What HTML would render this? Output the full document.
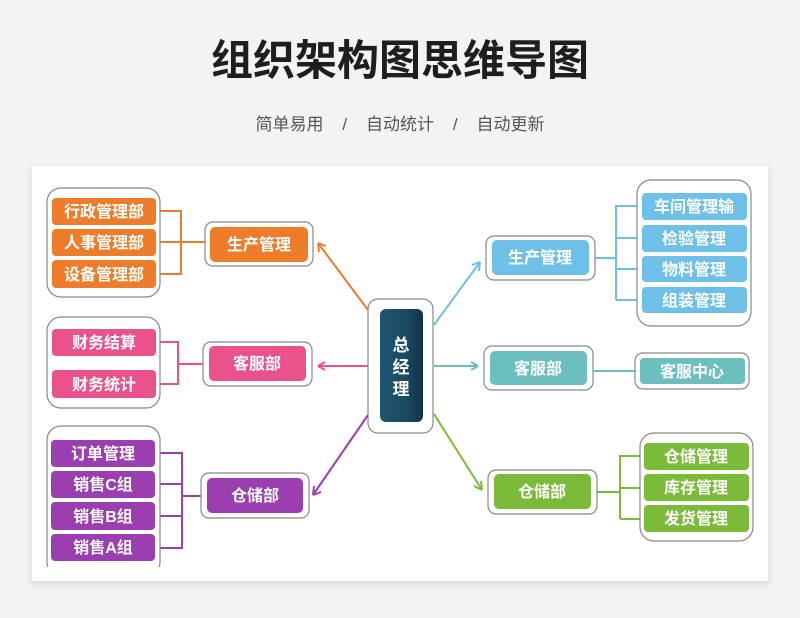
<!DOCTYPE html>
<html><head><meta charset="utf-8"><style>
html,body{margin:0;padding:0;background:#f2f3f5;}
body{width:800px;height:613px;overflow:hidden;font-family:"Liberation Sans","Noto Sans CJK SC",sans-serif;}
</style></head><body>
<svg width="800" height="613" viewBox="0 0 800 613" xmlns="http://www.w3.org/2000/svg" font-family="Liberation Sans, Noto Sans CJK SC, sans-serif">
<defs>
<filter id="sh" x="-5%" y="-5%" width="110%" height="115%"><feDropShadow dx="0" dy="3" stdDeviation="4" flood-color="#000" flood-opacity="0.12"/></filter>
<linearGradient id="cg" x1="0" x2="1"><stop offset="0" stop-color="#1f5670"/><stop offset="0.6" stop-color="#1a4a63"/><stop offset="1" stop-color="#0f3248"/></linearGradient>
<clipPath id="card"><rect x="32" y="166" width="736" height="401"/></clipPath>
</defs>
<text x="400" y="75" text-anchor="middle" font-size="42" font-weight="bold" fill="#1e1e1e">组织架构图思维导图</text>
<text x="400" y="130" text-anchor="middle" font-size="17" fill="#555" xml:space="preserve">简单易用    /    自动统计    /    自动更新</text>
<rect x="32" y="166" width="736" height="415" fill="#fff" filter="url(#sh)"/>
<g clip-path="url(#card)" font-size="16" font-weight="bold" fill="#fff" text-anchor="middle">
<rect x="368" y="299" width="65" height="134" rx="10" fill="#fff" stroke="#888" stroke-width="1.2"/>
<rect x="380" y="309" width="43" height="113" rx="6" fill="url(#cg)"/>
<text x="401" y="351" font-size="17">总</text><text x="401" y="373" font-size="17">经</text><text x="401" y="395" font-size="17">理</text>

<g fill="none" stroke-width="2">
<path d="M368 310 L318 243 M318 243 l1 9 M318 243 l8 3" stroke="#ee7d2b"/>
<path d="M368 366 L318 366 M318 366 l7 -4 M318 366 l7 4" stroke="#e9528a"/>
<path d="M368 415 L313 495 M313 495 l1 -9 M313 495 l8 -3" stroke="#9b3fb0"/>
<path d="M434 325 L480 262 M480 262 l-8 3 M480 262 l-1 9" stroke="#6fc0e8"/>
<path d="M434 366 L478 366 M478 366 l-7 -4 M478 366 l-7 4" stroke="#6bbfbf"/>
<path d="M434 414 L482 490 M482 490 l-1 -9 M482 490 l-8 -4" stroke="#7cba3a"/>
<path d="M156 211 H181 V274 H156 M156 242 H205" stroke="#ee7d2b"/>
<path d="M156 342 H178 V384 H156 M178 364 H203" stroke="#e9528a"/>
<path d="M156 453 H182 V548 H156 M156 484 H182 M156 516 H182 M182 496 H201" stroke="#9b3fb0"/>
<path d="M595 258 H616 V206 H642 M616 238 H642 M616 269 H642 M616 300 H642 M616 206 V300" stroke="#6fc0e8"/>
<path d="M593 371 H635" stroke="#6bbfbf"/>
<path d="M597 492 H620 V456 H644 M620 488 H644 M620 519 H644 M620 456 V519" stroke="#7cba3a"/>
</g>

<g fill="#fff" stroke="#888" stroke-width="1.2">
<rect x="47" y="188" width="113" height="109" rx="14"/>
<rect x="47" y="317" width="113" height="91" rx="14"/>
<rect x="47" y="426" width="113" height="150" rx="14"/>
<rect x="637" y="180" width="114" height="146" rx="14"/>
<rect x="640" y="433" width="113" height="108" rx="14"/>
<rect x="205" y="222" width="108" height="44" rx="8"/>
<rect x="203" y="342" width="109" height="44" rx="8"/>
<rect x="201" y="473" width="108" height="45" rx="8"/>
<rect x="486" y="236" width="109" height="44" rx="8"/>
<rect x="484" y="346" width="109" height="44" rx="8"/>
<rect x="488" y="470" width="109" height="44" rx="8"/>
<rect x="635" y="353" width="114" height="36" rx="8"/>
</g>

<g fill="#ee7d2b">
<rect x="52" y="198" width="104" height="27" rx="4"/><rect x="52" y="229" width="104" height="27" rx="4"/><rect x="52" y="260" width="104" height="28" rx="4"/>
<rect x="210" y="227" width="98" height="35" rx="5"/>
</g>
<text x="104" y="217">行政管理部</text><text x="104" y="248">人事管理部</text><text x="104" y="280">设备管理部</text>
<text x="259" y="250">生产管理</text>
<g fill="#e9528a">
<rect x="52" y="329" width="104" height="27" rx="4"/><rect x="52" y="370" width="104" height="28" rx="4"/>
<rect x="209" y="346" width="97" height="35" rx="5"/>
</g>
<text x="104" y="348">财务结算</text><text x="104" y="390">财务统计</text>
<text x="257" y="369">客服部</text>
<g fill="#9b3fb0">
<rect x="51" y="440" width="104" height="27" rx="4"/><rect x="51" y="471" width="104" height="27" rx="4"/><rect x="51" y="502" width="104" height="28" rx="4"/><rect x="51" y="534" width="104" height="27" rx="4"/>
<rect x="207" y="478" width="96" height="35" rx="5"/>
</g>
<text x="103" y="459">订单管理</text><text x="103" y="490">销售C组</text><text x="103" y="522">销售B组</text><text x="103" y="553">销售A组</text>
<text x="255" y="501">仓储部</text>
<g fill="#6fc0e8">
<rect x="642" y="193" width="105" height="27" rx="4"/><rect x="642" y="225" width="105" height="27" rx="4"/><rect x="642" y="256" width="105" height="26" rx="4"/><rect x="642" y="287" width="105" height="26" rx="4"/>
<rect x="492" y="240" width="97" height="35" rx="5"/>
</g>
<text x="694" y="212">车间管理输</text><text x="694" y="244">检验管理</text><text x="694" y="275">物料管理</text><text x="694" y="306">组装管理</text>
<text x="540" y="263">生产管理</text>
<g fill="#6bbfbf">
<rect x="490" y="351" width="97" height="34" rx="5"/>
<rect x="640" y="358" width="105" height="26" rx="4"/>
</g>
<text x="538" y="374">客服部</text><text x="692" y="377">客服中心</text>
<g fill="#7cba3a">
<rect x="644" y="443" width="105" height="27" rx="4"/><rect x="644" y="474" width="105" height="27" rx="4"/><rect x="644" y="505" width="105" height="27" rx="4"/>
<rect x="494" y="474" width="97" height="35" rx="5"/>
</g>
<text x="696" y="462">仓储管理</text><text x="696" y="493">库存管理</text><text x="696" y="524">发货管理</text>
<text x="542" y="497">仓储部</text>
</g>
</svg>
</body></html>
